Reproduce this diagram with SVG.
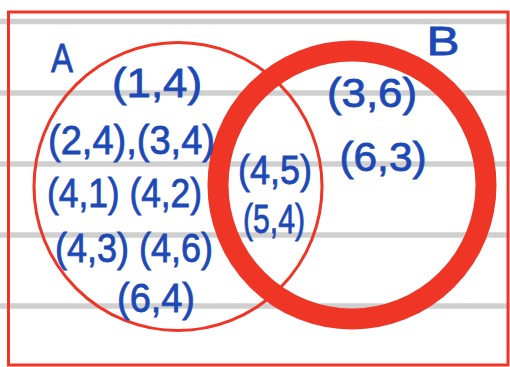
<svg xmlns="http://www.w3.org/2000/svg" width="510" height="367" viewBox="0 0 510 367">
<style>
.rule{stroke:#cfcfcf;stroke-width:5.5;}
.frame{fill:none;stroke:#ee3526;stroke-width:3;}
.t{font-family:"Liberation Sans","DejaVu Sans",sans-serif;font-size:40px;fill:#1c49b6;stroke:#1c49b6;stroke-width:0.8;text-anchor:middle;}
</style>
<rect width="510" height="367" fill="#ffffff"/>
<g id="paper-lines">
<line class="rule" x1="0" y1="21.5" x2="510" y2="21.5"/>
<line class="rule" x1="0" y1="93" x2="510" y2="93"/>
<line class="rule" x1="0" y1="164" x2="510" y2="164"/>
<line class="rule" x1="0" y1="235" x2="510" y2="235"/>
<line class="rule" x1="0" y1="306" x2="510" y2="306"/>
</g>
<g id="universal-set">
<rect class="frame" x="8.5" y="12" width="499.5" height="353"/>
</g>
<g id="set-B">
<circle cx="352" cy="185" r="134" fill="none" stroke="#ee3526" stroke-width="21"/>
<text class="t" x="443" y="55" font-size="39" textLength="33" lengthAdjust="spacingAndGlyphs">B</text>
</g>
<g id="set-A">
<circle cx="178" cy="186.5" r="144" fill="none" stroke="#ee3526" stroke-width="3"/>
<text class="t" x="62" y="72" font-size="44" textLength="22" lengthAdjust="spacingAndGlyphs">A</text>
</g>
<g id="elements">
<text class="t" x="157" y="97" textLength="90" lengthAdjust="spacingAndGlyphs">(1,4)</text>
<text class="t" x="131.5" y="153.5" textLength="167" lengthAdjust="spacingAndGlyphs">(2,4),(3,4)</text>
<text class="t" x="124.5" y="207" textLength="155" lengthAdjust="spacingAndGlyphs">(4,1) (4,2)</text>
<text class="t" x="134" y="262" textLength="158" lengthAdjust="spacingAndGlyphs">(4,3) (4,6)</text>
<text class="t" x="156" y="312" textLength="78" lengthAdjust="spacingAndGlyphs">(6,4)</text>
<text class="t" x="275" y="184" textLength="74" lengthAdjust="spacingAndGlyphs">(4,5)</text>
<text class="t" x="274" y="233" textLength="62" lengthAdjust="spacingAndGlyphs">(5,4)</text>
<text class="t" x="372" y="107" textLength="90" lengthAdjust="spacingAndGlyphs">(3,6)</text>
<text class="t" x="383" y="171" textLength="87" lengthAdjust="spacingAndGlyphs">(6,3)</text>
</g>
</svg>
